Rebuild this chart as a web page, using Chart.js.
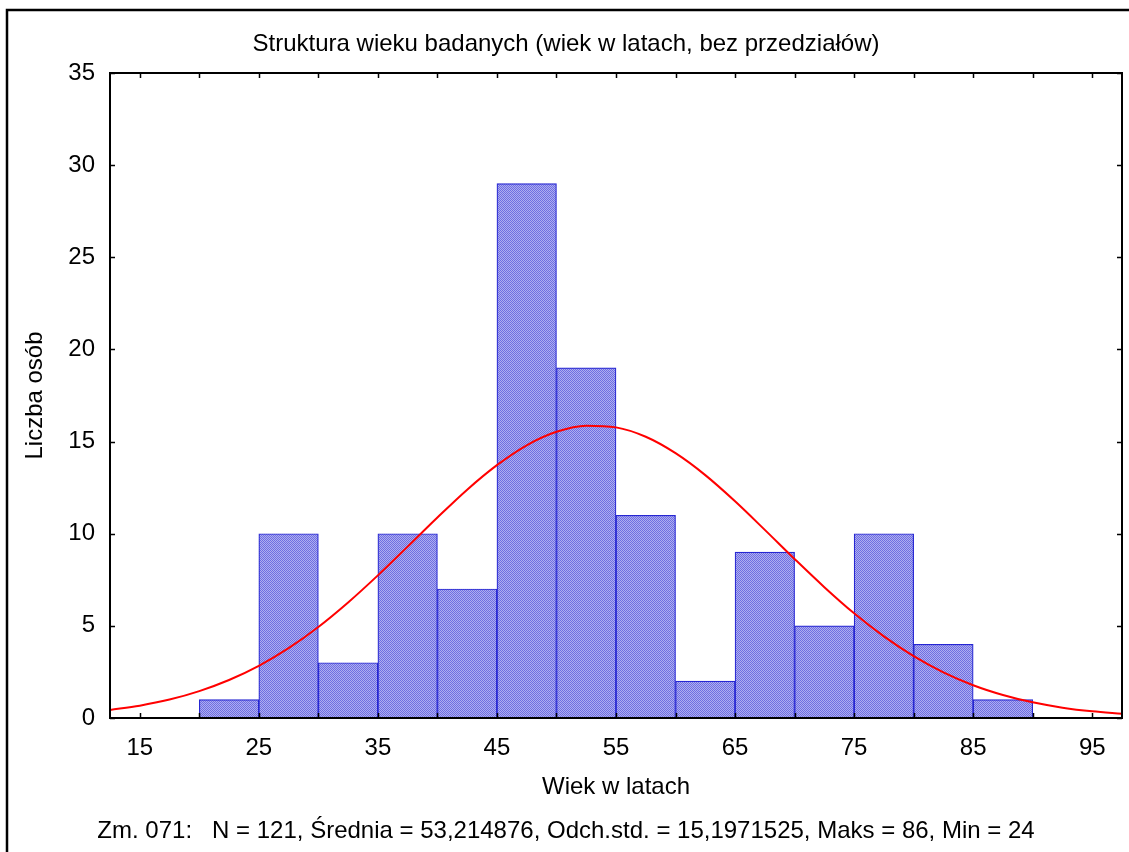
<!DOCTYPE html>
<html>
<head>
<meta charset="utf-8">
<script src="https://cdn.jsdelivr.net/npm/chart.js@4"></script>
<style>
  html, body { margin: 0; padding: 0; background: #fff; }
  #wrap { width: 1129px; height: 852px; }
</style>
</head>
<body>
<div id="wrap"><canvas id="chart" width="1129" height="852"></canvas></div>
<script>
// histogram bins (middle of each 5-year bin) and counts
const binCenters = [22.5, 27.5, 32.5, 37.5, 42.5, 47.5, 52.5, 57.5, 62.5, 67.5, 72.5, 77.5, 82.5, 87.5];
const counts = [1, 10, 3, 10, 7, 29, 19, 11, 2, 9, 5, 10, 4, 1];

// fitted normal curve
const curveX = [12.5, 15, 17.5, 20, 22.5, 25, 27.5, 30, 32.5, 35, 37.5, 40, 42.5, 45, 47.5, 50,
  52.5, 55, 57.5, 60, 62.5, 65, 67.5, 70, 72.5, 75, 77.5, 80, 82.5, 85, 87.5, 90, 92.5, 95, 97.5];
const curveY = [0.44, 0.67, 1.0, 1.46, 2.06, 2.83, 3.79, 4.94, 6.27, 7.74, 9.3, 10.88, 12.39, 13.72, 14.8, 15.53,
  15.86, 15.77, 15.26, 14.37, 13.18, 11.76, 10.21, 8.63, 7.1, 5.68, 4.43, 3.36, 2.48, 1.78, 1.25, 0.85, 0.56, 0.36, 0.23];

const xTicks = [15, 20, 25, 30, 35, 40, 45, 50, 55, 60, 65, 70, 75, 80, 85, 90, 95];
const yTicks = [0, 5, 10, 15, 20, 25, 30, 35];

const FONT = 'Arial, "Liberation Sans", sans-serif';
const SIZE = 24;

// checkered fill like the original bars
function makePattern() {
  const c = document.createElement('canvas');
  c.width = 2; c.height = 2;
  const g = c.getContext('2d');
  g.fillStyle = '#aeaef0';
  g.fillRect(0, 0, 2, 2);
  g.fillStyle = '#6e6ee2';
  g.fillRect(0, 0, 1, 1);
  g.fillRect(1, 1, 1, 1);
  return g.createPattern(c, 'repeat');
}

// outer frame, plot box and inner tick marks
const frame = {
  id: 'frame',
  afterDatasetsDraw(chart) {
    const ctx = chart.ctx;
    const { left, right, top, bottom } = chart.chartArea;
    const xs = chart.scales.x, ys = chart.scales.y;
    ctx.save();
    ctx.strokeStyle = '#000';
    ctx.lineWidth = 2.5;
    ctx.beginPath();
    ctx.moveTo(7, 852);
    ctx.lineTo(7, 10);
    ctx.lineTo(1129, 10);
    ctx.stroke();

    ctx.lineWidth = 2;
    ctx.strokeRect(left, top, right - left, bottom - top);

    ctx.lineWidth = 1.5;
    ctx.beginPath();
    xTicks.forEach(v => {
      const px = Math.round(xs.getPixelForValue(v)) + 0.5;
      ctx.moveTo(px, bottom); ctx.lineTo(px, bottom - 5);
      ctx.moveTo(px, top); ctx.lineTo(px, top + 5);
    });
    yTicks.forEach(v => {
      const py = Math.round(ys.getPixelForValue(v)) + 0.5;
      ctx.moveTo(left, py); ctx.lineTo(left + 5, py);
      ctx.moveTo(right, py); ctx.lineTo(right - 5, py);
    });
    ctx.stroke();
    ctx.restore();
  }
};

new Chart(document.getElementById('chart'), {
  type: 'bar',
  data: {
    datasets: [
      {
        type: 'line',
        data: curveX.map((x, i) => ({ x: x, y: curveY[i] })),
        borderColor: '#ff0000',
        borderWidth: 2,
        pointRadius: 0,
        tension: 0.4,
        cubicInterpolationMode: 'monotone',
        order: 0
      },
      {
        type: 'bar',
        data: binCenters.map((x, i) => ({ x: x, y: counts[i] })),
        backgroundColor: makePattern(),
        borderColor: '#2626d2',
        borderWidth: 1.2,
        borderSkipped: false,
        barPercentage: 1,
        categoryPercentage: 1,
        order: 1
      }
    ]
  },
  options: {
    responsive: false,
    animation: false,
    layout: { padding: { left: 10, right: 7, top: 0, bottom: 0 } },
    scales: {
      x: {
        type: 'linear',
        min: 12.5,
        max: 97.5,
        offset: false,
        afterBuildTicks: s => { s.ticks = xTicks.map(v => ({ value: v })); },
        afterFit: s => { s.height = 98.6; },
        grid: { display: false, drawTicks: false },
        border: { display: false },
        ticks: {
          padding: 15.5,
          maxRotation: 0,
          autoSkip: false,
          color: '#000',
          font: { family: FONT, size: SIZE },
          callback: v => ((v - 15) % 10 === 0 ? String(v) : '')
        },
        title: {
          display: true,
          text: 'Wiek w latach',
          color: '#000',
          font: { family: FONT, size: SIZE },
          padding: { top: 0, bottom: 15 }
        }
      },
      y: {
        min: 0,
        max: 35,
        afterBuildTicks: s => { s.ticks = yTicks.map(v => ({ value: v })); },
        afterFit: s => { s.width = 100; },
        grid: { display: false, drawTicks: false },
        border: { display: false },
        ticks: {
          padding: 15,
          color: '#000',
          font: { family: FONT, size: SIZE }
        },
        title: {
          display: true,
          text: 'Liczba osób',
          color: '#000',
          font: { family: FONT, size: SIZE },
          padding: { top: 10.6, bottom: 0 }
        }
      }
    },
    plugins: {
      legend: { display: false },
      tooltip: { enabled: false },
      title: {
        display: true,
        text: 'Struktura wieku badanych (wiek w latach, bez przedziałów)',
        color: '#000',
        font: { family: FONT, size: SIZE, weight: 'normal' },
        padding: { top: 30, bottom: 14.2 }
      },
      subtitle: {
        display: true,
        position: 'bottom',
        text: 'Zm. 071:   N = 121, Średnia = 53,214876, Odch.std. = 15,1971525, Maks = 86, Min = 24',
        color: '#000',
        font: { family: FONT, size: SIZE, weight: 'normal' },
        padding: { top: 0, bottom: 6.6 }
      }
    }
  },
  plugins: [frame]
});
</script>
</body>
</html>
